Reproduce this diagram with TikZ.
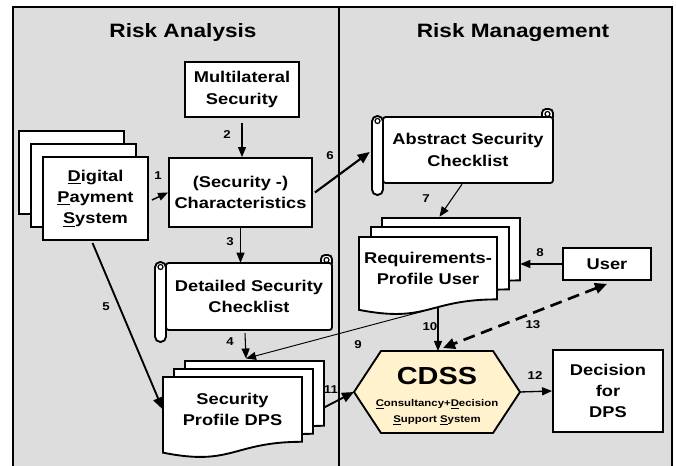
\documentclass[tikz,border=0pt]{standalone}
\usepackage{fontspec}
\setmainfont{Liberation Sans}[FakeStretch=1.17]
\usetikzlibrary{arrows.meta}

\definecolor{panelgray}{RGB}{221,221,221}
\definecolor{cdssfill}{RGB}{255,242,204}

\tikzset{
  wh/.style 2 args={minimum width=#1*0.75pt, minimum height=#2*0.75pt},
  txt/.style={font=\bfseries\fontsize{11.7}{16}\selectfont, align=center, inner sep=0pt},
  box/.style={txt, draw, fill=white, line width=1.4pt},
  lbl/.style={font=\bfseries\fontsize{8.5}{10}\selectfont, inner sep=0pt},
  ttl/.style={font=\bfseries\fontsize{14.5}{17}\selectfont, inner sep=0pt},
  docline/.style={fill=white, line width=1.4pt},
  arr/.style={-{Triangle[length=7.5pt,width=6pt]}, line width=0.8pt},
  heavyarr/.style={-{Triangle[length=9pt,width=7.5pt]}, line width=1.6pt},
  dasharr/.style={{Triangle[length=9pt,width=8pt]}-{Triangle[length=9pt,width=8pt]}, line width=2pt, dash pattern=on 9pt off 5pt},
}

% document sheet: name, x, y (top left), w, h, text
\newcommand{\docnode}[6]{%
  \draw[docline] (#2,#3) -- ({#2+#4},#3) -- ({#2+#4},{#3+0.8*#5})
    .. controls ({#2+0.5*#4},{#3+0.8*#5}) and ({#2+0.5*#4},{#3+1.107*#5}) .. (#2,{#3+0.934*#5}) -- cycle;
  \node[txt, wh={#4}{0.8*#5}] (#1) at ({#2+0.5*#4},{#3+0.4*#5}) {#6};}

% scroll: name, x, y (top left of body), w, h, text
\newcommand{\scrollnode}[6]{%
  \draw[docline, rounded corners=3pt] ({#2+#4-11},{#3+4}) rectangle ({#2+#4},{#3-8});
  \draw[docline, rounded corners=2pt] (#2,#3) rectangle ({#2+#4},{#3+#5});
  \draw[docline, rounded corners=4pt] ({#2-11},{#3-1}) rectangle (#2,{#3+#5+12});
  \draw[line width=0.9pt] ({#2-5.5},{#3+4}) circle (2.5);
  \draw[line width=0.9pt] ({#2+#4-5.5},{#3-3}) circle (2.5);
  \node[txt, wh={#4}{#5}] (#1) at ({#2+0.5*#4},{#3+0.5*#5}) {#6};}

\begin{document}
\begin{tikzpicture}[x=0.75pt,y=0.75pt,yscale=-1,xscale=1]
\useasboundingbox (0,0) rectangle (676,466);

%Panels
\fill[panelgray] (13,7) rectangle (672,470);
\draw[line width=1.5pt] (13,470) -- (13,7) -- (672,7) -- (672,470);
\draw[line width=2.2pt] (339,7) -- (339,470);

% Titles
\node[ttl] (ra) at (183,33) {Risk Analysis};
\node[ttl] (rm) at (513,33) {Risk Management};

%Boxes
\node[box, wh={114}{55}] (multi) at (242,89.5) {Multilateral\\Security};
\node[box, wh={143}{69}] (charac) at (240.5,192.5) {(Security -)\\Characteristics};
\node[box, wh={105}{83}] (dpsb) at (71.5,172.5) {};
\node[box, wh={105}{83}] (dpsm) at (83.5,185.5) {};
\node[box, wh={105}{83}] (dps) at (95.5,198.5) {\underline{D}igital\\\underline{P}ayment\\\underline{S}ystem};
\node[box, wh={88}{32}] (user) at (607,264) {User};
\node[box, wh={110}{82}] (decision) at (608,391) {Decision\\for\\DPS};

%Scrolls
\scrollnode{abs}{383}{117}{170}{66}{Abstract Security\\Checklist}
\scrollnode{det}{166}{263}{166}{67}{Detailed Security\\Checklist}

%Sheets
\docnode{reqb}{382}{218}{138}{78}{}
\docnode{reqm}{371}{227}{138}{78}{}
\docnode{req}{359}{237}{138}{78}{Requirements-\\Profile User}
\docnode{spdpsb}{185}{361}{139}{81}{}
\docnode{spdpsm}{174}{369}{139}{81}{}
\docnode{spdps}{163}{377}{139}{81}{Security\\Profile DPS}

%Shape: Hexagon
\coordinate (cdssW) at (354,392);
\coordinate (cdssE) at (520,392);
\coordinate (cdssT) at (438,351);
\draw[fill=cdssfill, line width=1.4pt] (cdssW) -- (381,351) -- (493,351) -- (cdssE) -- (493,433) -- (381,433) -- cycle;
\node[font=\bfseries\fontsize{7.3}{12}\selectfont, align=center, inner sep=0pt] (cdss) at (437,396)
  {{\fontsize{18.5}{19}\selectfont CDSS}\\[4.5pt]\underline{C}onsultancy+\underline{D}ecision\\\underline{S}upport \underline{S}ystem};

%Connectors
\coordinate (spin) at (246,358.5);
\coordinate (reqfoot) at (424,311);
\draw[arr, line width=1.1pt] ([shift={(3,1.5)}]dps.east) -- (charac.west);
\draw[arr] ([shift={(0,5)}]multi.south) -- (multi.south |- charac.north);
\draw[arr] (charac.south) -- (charac.south |- det.north);
\draw[arr] ([shift={(-4,3)}]det.south) -- (spin);
\draw[heavyarr, line width=1.4pt] ([shift={(-3,2)}]dps.south) -- (spdps.west);
\draw[heavyarr] ([shift={(2,0)}]charac.east) -- ([shift={(-13,2)}]abs.west);
\draw[arr] ([shift={(-6,1)}]abs.south) -- ([shift={(-11.5,-1)}]reqb.north);
\draw[arr] (user.west) -- (reqb.east |- user.west);
\draw[arr, line width=0.7pt] (reqfoot) -- (spin);
\draw[arr] ([shift={(10,7)}]req.south) -- (cdssT);
\draw[heavyarr, line width=1.4pt] ([shift={(0,14)}]spdpsb.east) -- (cdssW);
\draw[arr, line width=1pt] (cdssE) -- (decision.west);
\draw[dasharr] ([shift={(0,3)}]user.south) -- ([shift={(5,-3)}]cdssT);

% Text Node
\node[lbl] (l1) at (158,176) {1};
\node[lbl] (l2) at (227,135) {2};
\node[lbl] (l3) at (230,242) {3};
\node[lbl] (l4) at (230,342) {4};
\node[lbl] (l5) at (106,307) {5};
\node[lbl] (l6) at (330,156) {6};
\node[lbl] (l7) at (426,199) {7};
\node[lbl] (l8) at (540,253) {8};
\node[lbl] (l9) at (358,345) {9};
\node[lbl] (l10) at (430,327) {10};
\node[lbl] (l11) at (331,390) {11};
\node[lbl] (l12) at (535,376) {12};
\node[lbl] (l13) at (533,325) {13};

\end{tikzpicture}
\end{document}
